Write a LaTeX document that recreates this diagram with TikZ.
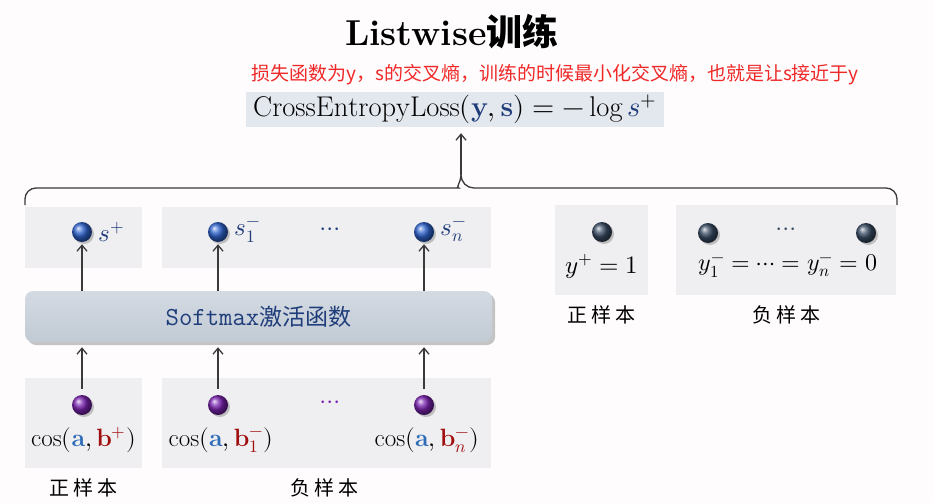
\documentclass[tikz,border=0pt]{standalone}
\usepackage{amsmath}
\usepackage{fontspec}
\usepackage{unicode-math}
\setmathfont{Latin Modern Math}
\usetikzlibrary{arrows.meta, positioning, shadows, calc}
\newfontfamily\cjk{Noto Sans CJK SC}
\definecolor{bg}{HTML}{FEFCFD}
\definecolor{boxg}{HTML}{EFEEF0}
\definecolor{fmlg}{HTML}{E3E7EE}
\definecolor{smtop}{HTML}{D3DAE2}
\definecolor{smbot}{HTML}{C2CAD4}
\definecolor{navy}{HTML}{1F3D7A}
\definecolor{ablu}{HTML}{2E6CB8}
\definecolor{bred}{HTML}{A00F0F}
\definecolor{lossred}{HTML}{F02828}
\definecolor{arrg}{HTML}{3A3A3A}
\definecolor{sblu}{HTML}{2F64D0}
\definecolor{cpur}{HTML}{7A22B0}
\definecolor{ydark}{HTML}{3A4D66}
\newcommand\mfont{\fontsize{25}{29}\selectfont}
\newcommand\cnfont{\cjk\fontsize{20}{24}\selectfont}
\tikzset{
  smp/.style   = {rectangle, fill=boxg, inner sep=0pt},
  sball/.style = {circle, inner sep=0pt, minimum size=20pt, shading=ball,
                  ball color=#1, drop shadow={shadow xshift=2pt,
                  shadow yshift=-2pt, opacity=0.35, fill=black!60}},
  arr/.style   = {-{Straight Barb[length=6pt,width=10pt]}, line width=1.3pt,
                  color=arrg},
  tag/.style   = {font=\cnfont, inner sep=0pt},
  mth/.style   = {font=\mfont, inner sep=0pt},
}
\begin{document}
\begin{tikzpicture}[x=1pt, y=-1pt]
  \fill[bg] (0,0) rectangle (933,503);
  \useasboundingbox (0,0) rectangle (933,503);

  % ── title and loss
  \node (title) at (452,32) {\fontsize{36}{42}\selectfont\bfseries Listwise\cjk 训练};
  \node[text=lossred] (note) at (555,75)
    {\cjk\fontsize{19}{23}\selectfont 损失函数为y，s的交叉熵，训练的时候最小化交叉熵，也就是让s接近于y};
  \node[fill=fmlg, minimum width=418pt, minimum height=35pt, inner sep=0pt]
    (loss) at (455,109.5) {\fontsize{28.5}{32}\selectfont
    $\mathrm{CrossEntropyLoss}(\textcolor{navy}{\mathbf{y}},\textcolor{navy}{\mathbf{s}})=-\log \textcolor{navy}{s}^{+}$};

  % ── score boxes
  \node[smp, minimum width=117pt, minimum height=61pt] (ps) at (83.5,237.5) {};
  \node[smp, minimum width=329pt, minimum height=61pt] (ns) at (326.5,237.5) {};
  \node[sball=sblu] (sp) at (82,232) {};
  \node[sball=sblu] (s1) at (218,232) {};
  \node[sball=sblu] (sn) at (424,232) {};
  \node[mth, text=navy, right=6pt of sp] {$s^{+}$};
  \node[mth, text=navy, right=6pt of s1] {$s_1^{-}$};
  \node[mth, text=navy, right=6pt of sn] {$s_n^{-}$};
  \node[mth, text=navy] (sdots) at (330,232) {$\cdots$};

  % ── softmax
  \node[rounded corners=8pt, top color=smtop, bottom color=smbot,
        minimum width=467pt, minimum height=51pt, inner sep=0pt,
        drop shadow={shadow xshift=3pt, shadow yshift=-3pt, opacity=0.45, fill=black!50}]
    (sm) at (258.5,316.5)
    {\textcolor{navy}{\fontsize{26}{30}\selectfont\ttfamily Softmax\cjk\fontsize{23}{27}\selectfont 激活函数}};

  % ── cosine boxes
  \node[smp, minimum width=117pt, minimum height=90pt] (pb) at (83.5,423) {};
  \node[smp, minimum width=329pt, minimum height=90pt] (nb) at (326.5,423) {};
  \node[sball=cpur] (cp) at (82,405) {};
  \node[sball=cpur] (c1) at (218,405) {};
  \node[sball=cpur] (cn) at (424,405) {};
  \node[mth, text=cpur] (cdots) at (330,405) {$\cdots$};
  \node[mth] (cpl) at (83.5,440)
    {$\cos(\textcolor{ablu}{\mathbf{a}},\textcolor{bred}{\mathbf{b}^{+}})$};
  \node[mth] (c1l) at (221,440)
    {$\cos(\textcolor{ablu}{\mathbf{a}},\textcolor{bred}{\mathbf{b}_1^{-}})$};
  \node[mth] (cnl) at (427,440)
    {$\cos(\textcolor{ablu}{\mathbf{a}},\textcolor{bred}{\mathbf{b}_n^{-}})$};
  \node[tag, below=10pt of pb] {正\hspace{4pt}样\hspace{4pt}本};
  \node[tag, below=10pt of nb, xshift=-2pt] {负\hspace{4pt}样\hspace{4pt}本};

  % ── label boxes
  \node[smp, minimum width=93pt, minimum height=90pt] (py) at (601.5,250) {};
  \node[smp, minimum width=220pt, minimum height=90pt] (ny) at (786,250) {};
  \node[sball=ydark] (yp) at (602,232) {};
  \node[sball=ydark] (y1) at (708,233) {};
  \node[sball=ydark] (yn) at (866,233) {};
  \node[mth, text=ydark] (ydots) at (786,232) {$\cdots$};
  \node[mth] (ypl) at (602,266) {$y^{+}=1$};
  \node[mth, font=\fontsize{24}{28}\selectfont] (ynl) at (788,266) {$y_1^{-}=\cdots=y_n^{-}=0$};
  \node[tag, below=10pt of py] {正\hspace{4pt}样\hspace{4pt}本};
  \node[tag, below=10pt of ny] {负\hspace{4pt}样\hspace{4pt}本};

  % ── arrows
  \foreach \b in {sp, s1, sn}
    \draw[arr, shorten >=2pt] (sm.north -| \b) -- (\b.south);
  \foreach \b in {cp, c1, cn}
    \draw[arr, shorten <=6pt, shorten >=5pt] (\b.north) -- (sm.south -| \b);

  % ── brace
  \coordinate (bl) at (25,205);
  \coordinate (br) at (897,205);
  \coordinate (bt) at (461,175);
  \draw[line width=1.3pt, arrg] [rounded corners=11pt] (bl) |- ($(bt)+(-13,13)$)
    [sharp corners] to[out=0, in=-90] (bt) to[out=-90, in=180] ($(bt)+(13,13)$)
    [rounded corners=11pt] -| (br);
  \draw[arr, shorten >=6pt] (bt) -- (loss.south -| bt);
\end{tikzpicture}
\end{document}
